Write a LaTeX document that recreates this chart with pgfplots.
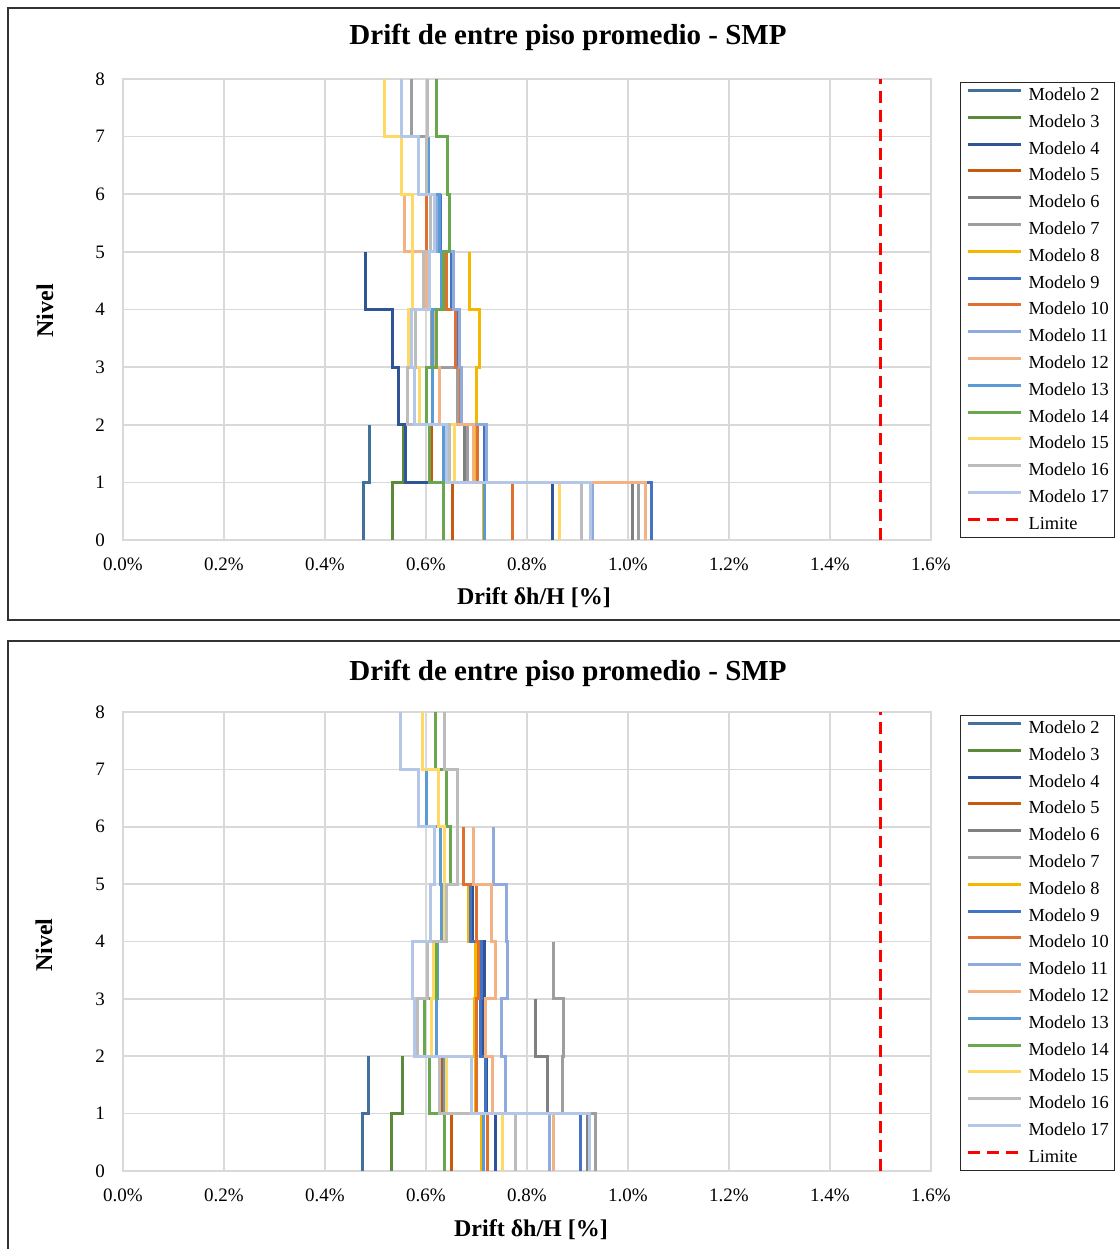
\documentclass[border=0pt]{standalone}
\usepackage{fontspec}
\setmainfont{Liberation Serif}
\usepackage{pgfplots}
\pgfplotsset{compat=1.18}

\definecolor{gridgray}{HTML}{D9D9D9}
\definecolor{c2}{HTML}{41719C}
\definecolor{c3}{HTML}{5A8A3A}
\definecolor{c4}{HTML}{2F5597}
\definecolor{c5}{HTML}{C55A11}
\definecolor{c6}{HTML}{808080}
\definecolor{c7}{HTML}{9E9E9E}
\definecolor{c8}{HTML}{F5B800}
\definecolor{c9}{HTML}{4472C4}
\definecolor{c10}{HTML}{E07030}
\definecolor{c11}{HTML}{8FAADC}
\definecolor{c12}{HTML}{F4B183}
\definecolor{c13}{HTML}{5B9BD5}
\definecolor{c14}{HTML}{6AA84F}
\definecolor{c15}{HTML}{FFD966}
\definecolor{c16}{HTML}{BCBCBC}
\definecolor{c17}{HTML}{B4C7E7}
\definecolor{limite}{HTML}{FF0000}

\pgfplotsset{
  drift/.style={
    scale only axis,
    width=404pt,
    xmin=0, xmax=1.6, ymin=0, ymax=8,
    xtick={0,0.2,0.4,0.6,0.8,1.0,1.2,1.4,1.6},
    xticklabels={0.0\%,0.2\%,0.4\%,0.6\%,0.8\%,1.0\%,1.2\%,1.4\%,1.6\%},
    ytick={0,1,2,3,4,5,6,7,8},
    yticklabels={0,1,2,3,4,5,6,7,8},
    grid=major,
    major grid style={draw=gridgray, line width=0.8pt},
    axis line style={draw=gridgray, line width=0.8pt},
    major tick length=0pt,
    tick style={draw=none},
    tick label style={font=\fontsize{9.5}{11}\selectfont},
    xticklabel style={anchor=center, yshift=-12pt},
    yticklabel style={anchor=center, xshift=-11.5pt},
    every axis plot/.append style={line width=1.5pt},
    legend cell align=left,
    legend style={
      at={(1.0359,0.9935)}, anchor=north west,
      draw=black!85, line width=0.5pt,
      font=\fontsize{9.2}{11}\selectfont,
      inner xsep=3pt, inner ysep=2pt,
      row sep=4.4pt,
      nodes={inner sep=0pt, text height=7pt, text depth=2pt},
      /tikz/every odd column/.append style={column sep=3pt},
    },
    legend image code/.code={\draw[#1, line width=1.5pt] (0pt,2.5pt) -- (26.5pt,2.5pt);},
    legend entries={Modelo 2,Modelo 3,Modelo 4,Modelo 5,Modelo 6,Modelo 7,Modelo 8,Modelo 9,Modelo 10,Modelo 11,Modelo 12,Modelo 13,Modelo 14,Modelo 15,Modelo 16,Modelo 17,Limite},
  },
  limitline/.style={limite, dash pattern=on 6pt off 3.5pt, line width=1.4pt},
}

\newcommand{\titlefont}{\fontsize{14.5}{17}\selectfont\bfseries}
\newcommand{\labelfont}{\fontsize{12}{14}\selectfont\bfseries}

\begin{document}
\begin{tikzpicture}
\useasboundingbox (0pt,0pt) rectangle (560pt,624.5pt);

% ---------------- upper panel ----------------
\draw[black!80, line width=0.75pt] (4pt,314.5pt) rectangle (575pt,620.5pt);
\node[font=\titlefont] at (284pt,606pt) {Drift de entre piso promedio - SMP};
\node[font=\labelfont] at (267pt,325.5pt) {Drift δh/H [\%]};
\node[font=\labelfont, rotate=90] at (22.5pt,469pt) {Nivel};

\begin{axis}[drift, height=230.5pt, at={(61.5pt,354.5pt)}, anchor=south west]
\addplot[c2] coordinates {(0.477,0) (0.477,1) (0.489,1) (0.489,2)};
\addplot[c3] coordinates {(0.533,0) (0.533,1) (0.555,1) (0.555,2)};
\addplot[c4] coordinates {(0.851,0) (0.851,1) (0.560,1) (0.560,2) (0.546,2) (0.546,3) (0.533,3) (0.533,4) (0.481,4) (0.481,5)};
\addplot[c5] coordinates {(0.653,0) (0.653,1) (0.611,1) (0.611,2)};
\addplot[c6] coordinates {(1.009,0) (1.009,1) (0.677,1) (0.677,2) (0.665,2) (0.665,3) (0.612,3) (0.612,4)};
\addplot[c7] coordinates {(1.021,0) (1.021,1) (0.683,1) (0.683,2) (0.663,2) (0.663,3) (0.611,3) (0.611,4) (0.595,4) (0.595,5) (0.608,5) (0.608,6) (0.600,6) (0.600,7) (0.572,7) (0.572,8)};
\addplot[c8] coordinates {(0.713,0) (0.713,1) (0.700,1) (0.700,2) (0.700,2) (0.700,3) (0.706,3) (0.706,4) (0.687,4) (0.687,5)};
\addplot[c9] coordinates {(1.046,0) (1.046,1) (0.715,1) (0.715,2) (0.668,2) (0.668,3) (0.663,3) (0.663,4) (0.650,4) (0.650,5) (0.628,5) (0.628,6)};
\addplot[c10] coordinates {(0.771,0) (0.771,1) (0.701,1) (0.701,2) (0.669,2) (0.669,3) (0.659,3) (0.659,4) (0.641,4) (0.641,5) (0.600,5) (0.600,6)};
\addplot[c11] coordinates {(0.929,0) (0.929,1) (0.719,1) (0.719,2) (0.670,2) (0.670,3) (0.666,3) (0.666,4) (0.654,4) (0.654,5) (0.621,5) (0.621,6)};
\addplot[c12] coordinates {(1.034,0) (1.034,1) (0.694,1) (0.694,2) (0.626,2) (0.626,3) (0.615,3) (0.615,4) (0.600,4) (0.600,5) (0.557,5) (0.557,6)};
\addplot[c13] coordinates {(0.716,0) (0.716,1) (0.635,1) (0.635,2) (0.612,2) (0.612,3) (0.613,3) (0.613,4) (0.630,4) (0.630,5) (0.626,5) (0.626,6) (0.605,6) (0.605,7)};
\addplot[c14] coordinates {(0.635,0) (0.635,1) (0.607,1) (0.607,2) (0.601,2) (0.601,3) (0.621,3) (0.621,4) (0.634,4) (0.634,5) (0.646,5) (0.646,6) (0.642,6) (0.642,7) (0.620,7) (0.620,8)};
\addplot[c15] coordinates {(0.864,0) (0.864,1) (0.656,1) (0.656,2) (0.588,2) (0.588,3) (0.565,3) (0.565,4) (0.573,4) (0.573,5) (0.573,5) (0.573,6) (0.551,6) (0.551,7) (0.517,7) (0.517,8)};
\addplot[c16] coordinates {(0.907,0) (0.907,1) (0.647,1) (0.647,2) (0.564,2) (0.564,3) (0.580,3) (0.580,4) (0.595,4) (0.595,5) (0.608,5) (0.608,6) (0.600,6) (0.600,7) (0.603,7) (0.603,8)};
\addplot[c17] coordinates {(0.925,0) (0.925,1) (0.640,1) (0.640,2) (0.578,2) (0.578,3) (0.572,3) (0.572,4) (0.607,4) (0.607,5) (0.617,5) (0.617,6) (0.585,6) (0.585,7) (0.551,7) (0.551,8)};
\addplot[limitline] coordinates {(1.5,0) (1.5,8)};
\end{axis}

% ---------------- lower panel ----------------
\draw[black!80, line width=0.75pt] (4pt,-5pt) rectangle (575pt,304pt);
\node[font=\titlefont] at (284pt,288pt) {Drift de entre piso promedio - SMP};
\node[font=\labelfont] at (265.5pt,9.5pt) {Drift δh/H [\%]};
\node[font=\labelfont, rotate=90] at (22pt,152pt) {Nivel};

\begin{axis}[drift, height=229.5pt, at={(61.5pt,39pt)}, anchor=south west]
\addplot[c2] coordinates {(0.475,0) (0.475,1) (0.487,1) (0.487,2)};
\addplot[c3] coordinates {(0.532,0) (0.532,1) (0.553,1) (0.553,2)};
\addplot[c4] coordinates {(0.737,0) (0.737,1) (0.720,1) (0.720,2) (0.712,2) (0.712,3) (0.715,3) (0.715,4) (0.692,4) (0.692,5)};
\addplot[c5] coordinates {(0.651,0) (0.651,1) (0.630,1) (0.630,2)};
\addplot[c6] coordinates {(0.919,0) (0.919,1) (0.840,1) (0.840,2) (0.816,2) (0.816,3)};
\addplot[c7] coordinates {(0.935,0) (0.935,1) (0.871,1) (0.871,2) (0.872,2) (0.872,3) (0.852,3) (0.852,4)};
\addplot[c8] coordinates {(0.710,0) (0.710,1) (0.698,1) (0.698,2) (0.697,2) (0.697,3) (0.698,3) (0.698,4) (0.684,4) (0.684,5)};
\addplot[c9] coordinates {(0.905,0) (0.905,1) (0.717,1) (0.717,2) (0.707,2) (0.707,3) (0.710,3) (0.710,4) (0.689,4) (0.689,5)};
\addplot[c10] coordinates {(0.722,0) (0.722,1) (0.700,1) (0.700,2) (0.700,2) (0.700,3) (0.704,3) (0.704,4) (0.700,4) (0.700,5) (0.674,5) (0.674,6)};
\addplot[c11] coordinates {(0.844,0) (0.844,1) (0.758,1) (0.758,2) (0.750,2) (0.750,3) (0.762,3) (0.762,4) (0.760,4) (0.760,5) (0.733,5) (0.733,6)};
\addplot[c12] coordinates {(0.852,0) (0.852,1) (0.732,1) (0.732,2) (0.717,2) (0.717,3) (0.737,3) (0.737,4) (0.729,4) (0.729,5) (0.694,5) (0.694,6)};
\addplot[c13] coordinates {(0.714,0) (0.714,1) (0.636,1) (0.636,2) (0.620,2) (0.620,3) (0.623,3) (0.623,4) (0.630,4) (0.630,5) (0.628,5) (0.628,6) (0.601,6) (0.601,7)};
\addplot[c14] coordinates {(0.636,0) (0.636,1) (0.606,1) (0.606,2) (0.598,2) (0.598,3) (0.620,3) (0.620,4) (0.640,4) (0.640,5) (0.648,5) (0.648,6) (0.641,6) (0.641,7) (0.618,7) (0.618,8)};
\addplot[c15] coordinates {(0.752,0) (0.752,1) (0.641,1) (0.641,2) (0.610,2) (0.610,3) (0.615,3) (0.615,4) (0.636,4) (0.636,5) (0.636,5) (0.636,6) (0.624,6) (0.624,7) (0.593,7) (0.593,8)};
\addplot[c16] coordinates {(0.778,0) (0.778,1) (0.626,1) (0.626,2) (0.583,2) (0.583,3) (0.603,3) (0.603,4) (0.641,4) (0.641,5) (0.663,5) (0.663,6) (0.663,6) (0.663,7) (0.636,7) (0.636,8)};
\addplot[c17] coordinates {(0.923,0) (0.923,1) (0.690,1) (0.690,2) (0.578,2) (0.578,3) (0.573,3) (0.573,4) (0.608,4) (0.608,5) (0.617,5) (0.617,6) (0.585,6) (0.585,7) (0.550,7) (0.550,8)};
\addplot[limitline] coordinates {(1.5,0) (1.5,8)};
\end{axis}
\end{tikzpicture}
\end{document}
